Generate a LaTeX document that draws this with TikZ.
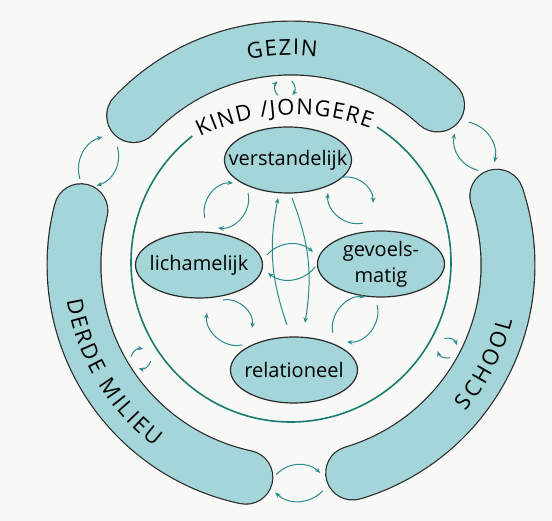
\documentclass[tikz,border=0pt]{standalone}
\usepackage{fontspec}
\setmainfont{Open Sans}
\usetikzlibrary{shapes.geometric,arrows.meta,decorations.text}

\definecolor{ringfill}{HTML}{A3D5D9}
\definecolor{rimline}{HTML}{2A2A2A}
\definecolor{flowteal}{HTML}{2B8A8F}
\definecolor{kindline}{HTML}{1C7A6F}
\definecolor{paper}{HTML}{F8F8F6}

\newcommand\ringfont{\fontsize{22}{26}\selectfont}
\newcommand\bubfont{\fontsize{20}{26}\selectfont}

\begin{document}
\begin{tikzpicture}[
  x=1pt, y=1pt,
  bubble/.style   = {ellipse, draw=rimline, fill=ringfill, line width=1.2pt,
                     minimum width=127pt, minimum height=66pt, inner sep=0pt},
  flow/.style     = {-{Stealth[length=5.5pt,width=4.5pt]}, flowteal, line width=1pt},
  ringtext/.style = {decorate, decoration={text along path, text align=fit to path}},
]

\useasboundingbox[fill=paper] (-291,-256) rectangle (261,265);

\coordinate (hub) at (0,0);
\coordinate (kid) at (0,3);
\coordinate (kidarc) at (4.6,-68.4);

% ---------- outer ring ----------
\foreach \a/\b in {47.5/136.5, 165.5/258, 286.5/378.5}{
  \draw[rimline, line width=55pt, line cap=round]
    ([shift={(\a:217)}]hub) arc[start angle=\a, end angle=\b, radius=217];
  \draw[ringfill, line width=52.6pt, line cap=round]
    ([shift={(\a:217)}]hub) arc[start angle=\a, end angle=\b, radius=217];
}

\path[ringtext, decoration={text={|\ringfont|GEZIN}}]
  ([shift={(101.8:210)}]hub) arc[start angle=101.8, end angle=82.9, radius=210];
\path[ringtext, decoration={text={|\ringfont|DERDE MILIEU}}]
  ([shift={(189:227)}]hub) arc[start angle=189, end angle=233, radius=227];
\path[ringtext, decoration={text={|\ringfont|SCHOOL}}]
  ([shift={(-40:228)}]hub) arc[start angle=-40, end angle=-14, radius=228];

% ring <-> ring
\foreach \g in {32.8,151.8,272}{
  \draw[flow] ([shift={(\g+6:228)}]hub) to[bend left=45] ([shift={(\g-6:228)}]hub);
  \draw[flow] ([shift={(\g-6:210)}]hub) to[bend left=45] ([shift={(\g+6:210)}]hub);
}

% ring <-> kind
\foreach \g in {92,212,332}{
  \coordinate (cyc) at (\g:177);
  \draw[flow] ([shift={(\g+135:10)}]cyc) arc[start angle=\g+135, end angle=\g+45, radius=10];
  \draw[flow] ([shift={(\g-45:10)}]cyc) arc[start angle=\g-45, end angle=\g-135, radius=10];
}

% ---------- kind / jongere ----------
\draw[kindline, line width=1.6pt]
  ([shift={(57.5:160)}]kid) arc[start angle=57.5, end angle=-231.9, radius=160];
\path[ringtext, decoration={text={|\ringfont|KIND /JONGERE}}]
  ([shift={(116:218.5)}]kidarc) arc[start angle=116, end angle=70, radius=218.5];

\node[bubble, label={[font=\bubfont]center:verstandelijk}] (verst) at (-3,105) {};
\node[bubble, label={[font=\bubfont]center:lichamelijk}]   (lich)  at (-92,0) {};
\node[bubble, label={[font=\bubfont, align=center]center:gevoels-\\matig}] (gevo) at (90,1) {};
\node[bubble, label={[font=\bubfont]center:relationeel}]   (rela)  at (3,-105) {};

\draw[flow] ([shift={(6,47)}]lich.center)   to[bend left=55] ([shift={(-55,-23)}]verst.center);
\draw[flow] ([shift={(-40,-33)}]verst.center) to[bend left=55] ([shift={(19,37)}]lich.center);
\draw[flow] ([shift={(52,-18)}]verst.center)  to[bend left=55] ([shift={(-8,61)}]gevo.center);
\draw[flow] ([shift={(-18,41)}]gevo.center)  to[bend left=55] ([shift={(40,-33)}]verst.center);
\draw[flow] ([shift={(24,-35)}]lich.center)  to[bend left=55] ([shift={(-42,42)}]rela.center);
\draw[flow] ([shift={(-52,25)}]rela.center)  to[bend left=55] ([shift={(8,-48)}]lich.center);
\draw[flow] ([shift={(39,37)}]rela.center)   to[bend left=55] ([shift={(-16,-33)}]gevo.center);
\draw[flow] ([shift={(-4,-41)}]gevo.center)  to[bend left=55] ([shift={(53,28)}]rela.center);
\draw[flow] ([shift={(68,10)}]lich.center)   to[bend left=45] ([shift={(-68,12)}]gevo.center);
\draw[flow] ([shift={(-66,-3)}]gevo.center)  to[bend left=45] ([shift={(69,-8)}]lich.center);
\draw[flow] ([shift={(-7,45)}]rela.center)   to[bend left=15] ([shift={(-10,-38)}]verst.center);
\draw[flow] ([shift={(4,-38)}]verst.center)  to[bend left=15] ([shift={(11,47)}]rela.center);

\end{tikzpicture}
\end{document}
